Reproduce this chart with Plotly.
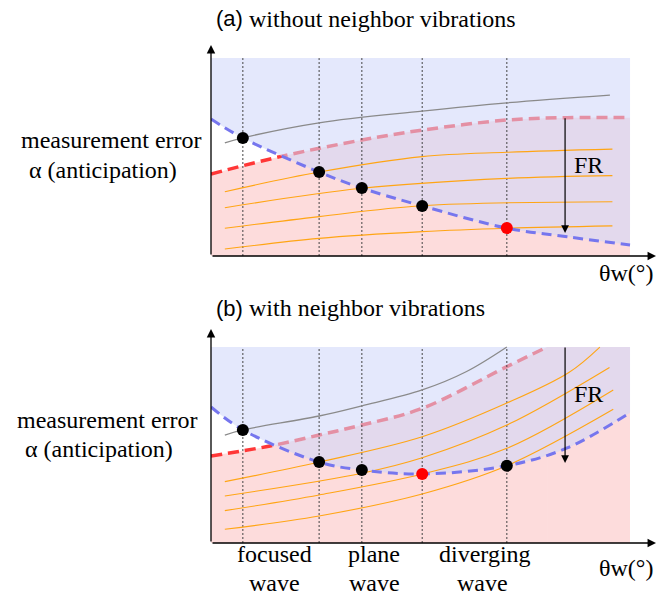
import plotly.graph_objects as go

# ---------------- data (schematic units: x 0..100, y 0..100 = shaded frame) -------------
REGION_X = [0, 100]
REGION_TOP = [100, 100]
wave_x = [7.6, 25.8, 36.0, 50.4, 70.6]          # vertical dotted guide lines

# panel (a): without neighbor vibrations
a_blue_x = [0, 7.6, 25.8, 36.0, 50.4, 70.6, 85, 100]
a_blue_y = [69.2, 59.6, 42.4, 34.3, 25.3, 14.1, 9.7, 5.6]
a_pink_x = [0, 16.5, 36.0, 50.4, 70.6, 85, 100]
a_pink_y = [41.4, 50.2, 58.6, 63.6, 68.7, 69.9, 69.9]
a_gray_x = [3.3, 7.6, 25.8, 50.4, 70.6, 95.2]
a_gray_y = [57.2, 59.7, 67.3, 73.2, 77.4, 81.3]
a_orange = [
    ([3.3, 25.8, 50.4, 70.6, 95.8], [32.5, 42.4, 50.2, 52.4, 54.0]),
    ([3.3, 36.0, 70.6, 95.8], [24.4, 34.2, 39.2, 40.6]),
    ([3.3, 25.8, 50.4, 95.8], [14.0, 19.9, 25.4, 27.4]),
    ([3.3, 25.8, 50.4, 70.6, 95.8], [3.5, 8.9, 12.3, 14.0, 15.2]),
]
a_dots_x = [7.6, 25.8, 36.0, 50.4]
a_dots_y = [59.6, 42.4, 34.3, 25.3]
a_red_x = [70.6]
a_red_y = [14.1]

# panel (b): with neighbor vibrations
b_blue_x = [0, 7.6, 25.8, 36.0, 50.4, 70.6, 85, 100]
b_blue_y = [69.4, 57.7, 41.3, 37.2, 35.2, 39.4, 48.5, 66.5]
b_pink_x = [0, 14.1, 25.8, 36.0, 50.4, 70.6, 80.2]
b_pink_y = [44.4, 49.5, 55.1, 60.2, 68.7, 90.0, 100.0]
b_gray_x = [3.3, 7.6, 25.8, 36.0, 50.4, 61.0, 70.6]
b_gray_y = [55.1, 57.7, 64.8, 70.0, 78.1, 87.5, 100.0]
b_orange = [
    ([3.3, 25.8, 50.4, 70.6, 85.4, 92.8], [31.3, 41.3, 54.2, 71.4, 87.0, 100.0]),
    ([3.3, 36.0, 50.4, 70.6, 95.1], [24.0, 35.6, 43.5, 60.2, 89.6]),
    ([3.3, 25.8, 50.4, 70.6, 96.0], [16.5, 24.5, 35.2, 48.3, 78.1]),
    ([3.3, 25.8, 50.4, 70.6, 96.0], [7.0, 13.8, 25.0, 39.4, 68.2]),
]
b_dots_x = [7.6, 25.8, 36.0, 70.6]
b_dots_y = [57.7, 41.3, 37.2, 39.4]
b_red_x = [50.4]
b_red_y = [35.2]

fr_x = 84.5
a_fr = (70.4, 11.6)
b_fr = (100.5, 40.8)

# ---------------- styling ----------------
W, H = 668, 597
SERIF = "Liberation Serif"
SANS = "Liberation Sans"
RED_FILL = "#FDDCDC"
BLUE_FILL = "rgba(207,214,250,0.56)"
RED_LINE = "rgb(255,55,55)"
BLUE_LINE = "rgb(118,118,238)"
ORANGE = "rgb(255,165,20)"
GRAY = "#8a8a8a"
SM = 1.0

fig = go.Figure()
shapes = []


def px(x):
    return x / W


def py(y):
    return 1 - y / H


def add_panel(xa, ya, blue_x, blue_y, pink_x, pink_y, gray_x, gray_y, oranges,
              dx, dy, rx, ry):
    common = dict(xaxis=xa, yaxis=ya, hoverinfo="skip", showlegend=False)
    # red region below the red dashed curve
    fig.add_trace(go.Scatter(x=pink_x, y=pink_y, mode="lines", fill="tozeroy", fillcolor=RED_FILL,
                             line=dict(width=0, shape="spline", smoothing=SM), **common))
    if pink_x[-1] < REGION_X[1]:
        # the curve leaves the frame at the top: everything to its right is below it
        shapes.append(dict(type="rect", xref=xa, yref=ya, x0=pink_x[-1], x1=REGION_X[1],
                           y0=0, y1=REGION_TOP[1], fillcolor=RED_FILL, line=dict(width=0),
                           layer="below"))
    # red dashed curve (beneath the blue tint)
    fig.add_trace(go.Scatter(x=pink_x, y=pink_y, mode="lines",
                             line=dict(color=RED_LINE, width=3.5, dash="11px,6px",
                                       shape="spline", smoothing=SM), **common))
    # blue region above the blue dashed curve
    fig.add_trace(go.Scatter(x=REGION_X, y=REGION_TOP, mode="lines",
                             line=dict(width=0), **common))
    fig.add_trace(go.Scatter(x=blue_x, y=blue_y, mode="lines", fill="tonexty", fillcolor=BLUE_FILL,
                             line=dict(width=0, shape="spline", smoothing=SM), **common))
    # vertical dotted guides
    vx, vy = [], []
    for x in wave_x:
        vx += [x, x, None]
        vy += [0, REGION_TOP[0], None]
    fig.add_trace(go.Scatter(x=vx, y=vy, mode="lines",
                             line=dict(color="#444", width=1, dash="2px,2px"), **common))
    # orange iso-lines
    for ox, oy in oranges:
        fig.add_trace(go.Scatter(x=ox, y=oy, mode="lines",
                                 line=dict(color=ORANGE, width=1.1, shape="spline", smoothing=SM),
                                 **common))
    # gray line
    fig.add_trace(go.Scatter(x=gray_x, y=gray_y, mode="lines",
                             line=dict(color=GRAY, width=1.3, shape="spline", smoothing=SM), **common))
    # blue dashed curve
    fig.add_trace(go.Scatter(x=blue_x, y=blue_y, mode="lines",
                             line=dict(color=BLUE_LINE, width=3, dash="10px,6px",
                                       shape="spline", smoothing=SM), **common))
    # dots
    fig.add_trace(go.Scatter(x=dx, y=dy, mode="markers",
                             marker=dict(color="black", size=12), **common))
    fig.add_trace(go.Scatter(x=rx, y=ry, mode="markers",
                             marker=dict(color="#FF0000", size=12), **common))


add_panel("x", "y", a_blue_x, a_blue_y, a_pink_x, a_pink_y, a_gray_x, a_gray_y, a_orange,
          a_dots_x, a_dots_y, a_red_x, a_red_y)
add_panel("x2", "y2", b_blue_x, b_blue_y, b_pink_x, b_pink_y, b_gray_x, b_gray_y, b_orange,
          b_dots_x, b_dots_y, b_red_x, b_red_y)

XR = [0, 106.2]
YR_A = [0, 106.6]
YR_B = [0, 109.2]
ax_common = dict(showgrid=False, zeroline=False, showticklabels=False, ticks="",
                 showline=False, fixedrange=True)
fig.update_layout(
    width=W, height=H, margin=dict(l=0, r=0, t=0, b=0),
    paper_bgcolor="white", plot_bgcolor="rgba(0,0,0,0)",
    font=dict(family=SERIF, size=24, color="black"),
    xaxis=dict(domain=[px(211), px(656)], range=XR, anchor="y", **ax_common),
    yaxis=dict(domain=[py(256), py(45)], range=YR_A, anchor="x", **ax_common),
    xaxis2=dict(domain=[px(211), px(656)], range=XR, anchor="y2", **ax_common),
    yaxis2=dict(domain=[py(543), py(329)], range=YR_B, anchor="x2", **ax_common),
    showlegend=False,
    shapes=shapes,
)

ann = []
# axes arrows
for xr, yr, ytop in (("x", "y", YR_A[1]), ("x2", "y2", YR_B[1])):
    ann.append(dict(xref=xr, yref=yr, axref=xr, ayref=yr, x=XR[1], y=0, ax=0, ay=0,
                    showarrow=True, arrowhead=2, arrowsize=1.3, arrowwidth=1.3,
                    arrowcolor="black", text=""))
    ann.append(dict(xref=xr, yref=yr, axref=xr, ayref=yr, x=0, y=ytop, ax=0, ay=0,
                    showarrow=True, arrowhead=2, arrowsize=1.3, arrowwidth=1.3,
                    arrowcolor="black", text=""))
# FR arrows
for xr, yr, (t, b) in (("x", "y", a_fr), ("x2", "y2", b_fr)):
    ann.append(dict(xref=xr, yref=yr, axref=xr, ayref=yr, x=fr_x, y=b, ax=fr_x, ay=t,
                    showarrow=True, arrowhead=2, arrowsize=1.3, arrowwidth=1.2,
                    arrowcolor="black", text=""))


def text(x, y, s, xanchor="center", family=SERIF, size=24):
    ann.append(dict(xref="paper", yref="paper", x=px(x), y=py(y), text=s, showarrow=False,
                    xanchor=xanchor, yanchor="middle", borderpad=0,
                    font=dict(family=family, size=size, color="black")))


text(215, 19, "(a)", "left", SANS, 22)
text(248, 19, "without neighbor vibrations", "left")
text(215, 308, "(b)", "left", SANS, 22)
text(248, 308, "with neighbor vibrations", "left")
text(203, 140, "measurement error", "right")
text(28, 170, "α (anticipation)", "left")
text(199, 420, "measurement error", "right")
text(24, 449, "α (anticipation)", "left")
text(588, 165, "FR")
text(588, 394, "FR")
text(626, 273, "θw(°)")
text(626, 568, "θw(°)")
for cx, top in ((274, "focused"), (374, "plane"), (485, "diverging")):
    text(cx, 554, top)
    text(cx - (2 if top == "diverging" else 0), 583, "wave")

fig.update_layout(annotations=ann)
fig.write_html("out.html")
